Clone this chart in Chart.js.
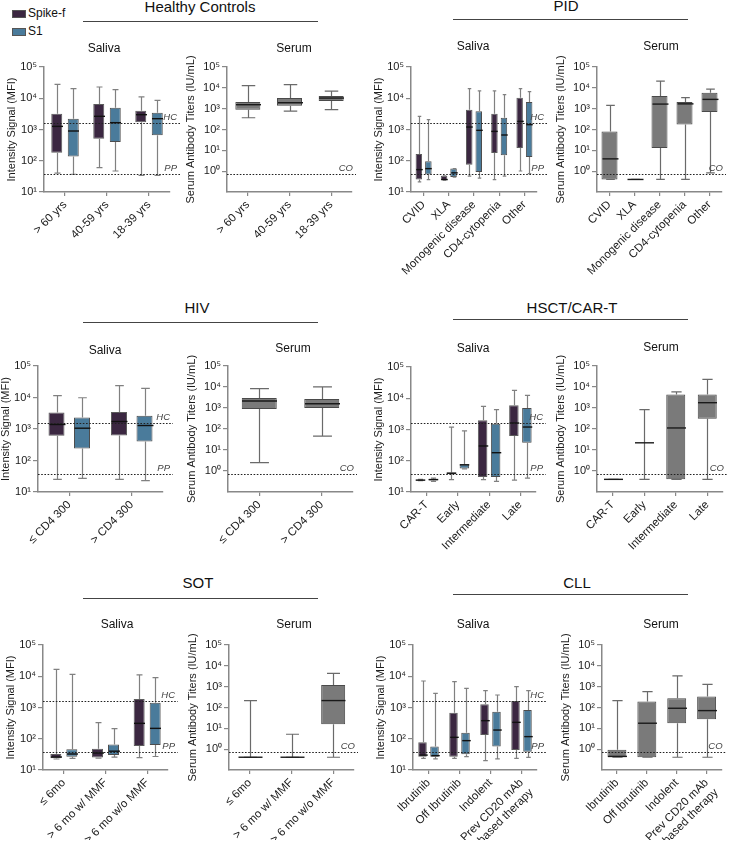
<!DOCTYPE html>
<html>
<head>
<meta charset="utf-8">
<script src="https://cdn.jsdelivr.net/npm/chart.js@4.4.1/dist/chart.umd.min.js"></script>
<style>
  body { margin: 0; background: #fff; width: 729px; height: 845px; position: relative; overflow: hidden;
         font-family: "Liberation Sans", Arial, Helvetica, sans-serif; color: #111; }
  canvas { position: absolute; left: 0; top: 0; pointer-events: none; }
  .txt { position: absolute; white-space: nowrap; line-height: 1; transform: translateX(-50%); }
  .rule { position: absolute; height: 0; border-top: 1.3px solid #444; }
  .sw { position: absolute; width: 14px; height: 8px; border: 1px solid #555; box-sizing: border-box; }
</style>
</head>
<body>
<script>
// ---- data: [min, q1, median, q3, max] ----
const hcGroups = ['> 60 yrs', '40-59 yrs', '18-39 yrs'];
const hcSalivaSpike = [[40, 180, 1260, 3200, 27900], [60, 510, 2640, 6550, 22900], [34, 1700, 2980, 4000, 11000]];
const hcSalivaS1 = [[37, 138, 895, 2220, 20300], [47, 398, 1655, 5000, 18800], [34, 650, 2220, 3460, 8570]];
const hcSerum = [[366, 890, 1550, 2070, 12700], [767, 1380, 1930, 3230, 14100], [890, 2320, 3230, 4030, 7020]];

const pidGroups = ['CVID', 'XLA', 'Monogenic disease', 'CD4-cytopenia', 'Other'];
const pidSalivaSpike = [[21, 25, 52, 165, 2640], [24, 24, 25, 33, 33], [32, 75, 1200, 4310, 20300], [25, 177, 870, 3200, 17100], [47, 256, 1820, 10400, 20300]];
const pidSalivaS1 = [[25, 36, 56, 96, 2060], [30, 30, 41, 56, 56], [28, 44, 940, 3810, 17100], [32, 149, 667, 2390, 13000], [39, 132, 1430, 7590, 16200]];
const pidSerum = [[0.4, 0.4, 3.9, 81, 1440], [0.4, 0.4, 0.4, 0.4, 0.4], [0.4, 12.8, 1660, 4030, 21200], [0.4, 175, 1700, 2070, 3360], [0.83, 687, 2790, 5840, 8750]];

const hivGroups = ['≤ CD4 300', '> CD4 300'];
const hivSalivaSpike = [[25, 605, 1390, 3350, 11400], [25, 621, 1730, 3440, 23700]];
const hivSalivaS1 = [[27, 240, 1060, 2320, 9820], [23, 400, 1290, 2620, 19500]];
const hivSerum = [[2.5, 890, 2150, 3000, 8440], [46, 990, 1600, 2690, 10100]];

const hsctGroups = ['CAR-T', 'Early', 'Intermediate', 'Late'];
const hsctSalivaSpike = [[23, 23.5, 24, 24.5, 25.5], [25, 38, 40, 42, 1200], [25, 30, 297, 1960, 5500], [24, 620, 1610, 5930, 17900]];
const hsctSalivaS1 = [[22, 23.5, 25, 26, 28], [55, 57, 74, 77, 900], [22, 30, 181, 1540, 4310], [28, 379, 1200, 4880, 12400]];
const hsctSerum = [[0.4, 0.4, 0.4, 0.4, 0.4], [0.4, 22, 22, 22, 830], [0.4, 0.4, 112, 4340, 5840], [0.4, 305, 1790, 4340, 22900]];

const sotGroups = ['≤ 6mo', '> 6 mo w/ MMF', '> 6 mo w/o MMF'];
const sotSalivaSpike = [[22.5, 23.6, 26, 32.5, 16600], [24, 25, 35, 48, 330], [25, 59, 311, 1870, 11000]];
const sotSalivaS1 = [[23.6, 26.7, 32.5, 46, 11500], [26, 30, 40, 65, 210], [27, 63, 215, 1430, 9000]];
const sotSerum = [[0.41, 0.41, 0.41, 0.41, 215], [0.41, 0.41, 0.41, 0.41, 5.2], [0.41, 15.8, 215, 1210, 4390]];

const cllGroups = ['Ibrutinib', 'Off Ibrutinib', 'Indolent', ['Prev CD20 mAb', 'based therapy']];
const cllSalivaSpike = [[23.6, 26.7, 30, 77, 7050], [23.6, 26.7, 111, 684, 6700], [20, 132, 379, 1260, 3460], [23.6, 43.6, 335, 1610, 4640]];
const cllSalivaS1 = [[22.6, 26.7, 28.8, 56, 2840], [26.7, 31.7, 87, 157, 4100], [22.6, 56, 190, 736, 2510], [25.4, 38.6, 117, 832, 3460]];
const cllSerum = [[0.41, 0.41, 0.45, 0.95, 215], [0.41, 0.41, 17.6, 192, 580], [0.41, 17.6, 92, 278, 3270], [0.41, 27.4, 71, 334, 1300]];

// thresholds
const hcLine = 1600;   // HC
const ppLine = 38;     // PP
const coLine = 0.7;    // CO

const salivaTicks = [1e1, 1e2, 1e3, 1e4, 1e5];
const serumTicks = [1e0, 1e1, 1e2, 1e3, 1e4, 1e5];

const FONT = '"Liberation Sans", Arial, Helvetica, sans-serif';
const SPIKE = '#3b2741';
const S1 = '#4a7b9b';
const GREY = '#7a7a7a';
const sup = { 0: '⁰', 1: '¹', 2: '²', 3: '³', 4: '⁴', 5: '⁵' };

// ---- text, rules, legend ----
function txt(s, cx, baseline, size, style) {
  const d = document.createElement('div');
  d.className = 'txt';
  d.textContent = s;
  d.style.left = cx + 'px';
  d.style.top = (baseline - 0.8465 * size) + 'px';
  d.style.fontSize = size + 'px';
  if (style) d.style.cssText += style;
  document.body.appendChild(d);
}
function rule(x1, x2, y) {
  const d = document.createElement('div');
  d.className = 'rule';
  d.style.left = x1 + 'px';
  d.style.width = (x2 - x1) + 'px';
  d.style.top = y + 'px';
  document.body.appendChild(d);
}
function swatch(x, y, c, label) {
  const d = document.createElement('div');
  d.className = 'sw';
  d.style.left = x + 'px';
  d.style.top = y + 'px';
  d.style.background = c;
  document.body.appendChild(d);
  const t = document.createElement('div');
  t.className = 'txt';
  t.style.transform = 'none';
  t.style.left = (x + 16) + 'px';
  t.style.top = (y + 7.5 - 0.8465 * 12) + 'px';
  t.style.fontSize = '12px';
  t.textContent = label;
  document.body.appendChild(t);
}

swatch(12, 10, SPIKE, 'Spike-f');
swatch(12, 28, S1, 'S1');

txt('Healthy Controls', 200, 12, 15); rule(83, 318, 21);
txt('PID', 566, 11, 15); rule(453, 688, 18.5);
txt('HIV', 197, 313, 15); rule(83, 318, 322);
txt('HSCT/CAR-T', 572, 313, 15); rule(453, 688, 319);
txt('SOT', 198, 588, 15); rule(83, 318, 598);
txt('CLL', 577, 588, 15); rule(453, 688, 594);

// ---- plugins ----
const boxPlot = {
  id: 'boxPlot',
  afterDatasetsDraw(chart) {
    const ctx = chart.ctx;
    const y = chart.scales.y;
    chart.data.datasets.forEach((ds, di) => {
      const meta = chart.getDatasetMeta(di);
      meta.data.forEach((bar, i) => {
        const s = ds.stats[i];
        const x = Math.round(bar.x) + 0.5;
        const w = bar.width;
        const py = v => y.getPixelForValue(v);
        const cap = w * 0.27;
        ctx.save();
        ctx.strokeStyle = ds.whiskerColor;
        ctx.lineWidth = 1.2;
        ctx.beginPath();
        ctx.moveTo(x, py(s[4])); ctx.lineTo(x, py(s[3]));
        ctx.moveTo(x, py(s[1])); ctx.lineTo(x, py(s[0]));
        ctx.moveTo(x - cap, py(s[4])); ctx.lineTo(x + cap, py(s[4]));
        ctx.moveTo(x - cap, py(s[0])); ctx.lineTo(x + cap, py(s[0]));
        ctx.stroke();
        ctx.strokeStyle = ds.medianColor;
        ctx.lineWidth = 1.4;
        ctx.beginPath();
        ctx.moveTo(x - w / 2, py(s[2])); ctx.lineTo(x + w / 2, py(s[2]));
        ctx.stroke();
        ctx.restore();
      });
    });
  }
};

const refLines = {
  id: 'refLines',
  afterDraw(chart, args, opts) {
    const { ctx, chartArea } = chart;
    const y = chart.scales.y;
    (opts.lines || []).forEach(l => {
      const py = Math.round(y.getPixelForValue(l.value)) + 0.5;
      const end = chartArea.right + opts.extend;
      ctx.save();
      ctx.setLineDash([1.6, 1.6]);
      ctx.strokeStyle = '#222';
      ctx.lineWidth = 1.2;
      ctx.beginPath();
      ctx.moveTo(chartArea.left, py);
      ctx.lineTo(end, py);
      ctx.stroke();
      ctx.setLineDash([]);
      ctx.fillStyle = '#444';
      ctx.font = 'italic 9.5px ' + FONT;
      ctx.textAlign = 'right';
      ctx.textBaseline = 'bottom';
      ctx.fillText(l.label, end - 3, py - 1);
      ctx.restore();
    });
  }
};

// ---- panels ----
function makePanel(p) {
  const canvas = document.createElement('canvas');
  canvas.width = 729;
  canvas.height = 845;
  document.body.appendChild(canvas);

  const serum = p.kind === 'serum';
  const W = serum ? 44 : 40;
  const H = p.H;
  const catW = (p.right - p.axisX) / p.cats.length;
  const toBar = arr => arr.map(s => [s[1], s[3]]);

  let datasets;
  if (serum) {
    datasets = [{
      data: toBar(p.serum), stats: p.serum,
      backgroundColor: GREY, borderColor: '#4a4a4a', borderWidth: 1, borderSkipped: false,
      whiskerColor: '#6a6a6a', medianColor: '#1a1a1a',
      categoryPercentage: 1, barPercentage: p.box / catW
    }];
  } else {
    const cp = 2 * p.slot / catW;
    const bp = p.box / p.slot;
    datasets = [
      { data: toBar(p.spike), stats: p.spike, backgroundColor: SPIKE, borderColor: '#5c5c5c', borderWidth: 1,
        borderSkipped: false, whiskerColor: '#808080', medianColor: '#111', categoryPercentage: cp, barPercentage: bp },
      { data: toBar(p.s1), stats: p.s1, backgroundColor: S1, borderColor: '#4d4d4d', borderWidth: 1,
        borderSkipped: false, whiskerColor: '#808080', medianColor: '#111', categoryPercentage: cp, barPercentage: bp }
    ];
  }

  const ticks = serum ? serumTicks : salivaTicks;
  new Chart(canvas, {
    type: 'bar',
    data: { labels: p.cats, datasets },
    plugins: [boxPlot, refLines],
    options: {
      responsive: false,
      animation: false,
      devicePixelRatio: 1,
      layout: {
        padding: { left: p.axisX - W, top: p.top, right: 729 - p.right, bottom: 845 - p.bottom - H }
      },
      plugins: {
        legend: { display: false },
        tooltip: { enabled: false },
        refLines: serum
          ? { lines: [{ value: coLine, label: 'CO' }], extend: 4 }
          : { lines: [{ value: hcLine, label: 'HC' }, { value: ppLine, label: 'PP' }], extend: 10 }
      },
      scales: {
        x: {
          type: 'category',
          offset: true,
          afterFit: s => { s.height = H; },
          grid: { offset: false, drawOnChartArea: false, tickLength: 4, color: '#888', lineWidth: 1.2 },
          border: { color: '#888', width: 1.5 },
          ticks: { autoSkip: false, minRotation: 45, maxRotation: 45, padding: 2, color: '#1a1a1a',
                   font: { family: FONT, size: 11.5 } }
        },
        y: {
          type: 'logarithmic',
          min: serum ? 0.1 : 10,
          max: 1e5,
          afterFit: s => { s.width = W; },
          afterBuildTicks: s => { s.ticks = ticks.map(v => ({ value: v })); },
          grid: { drawOnChartArea: false, tickLength: 5, color: '#888', lineWidth: 1.2 },
          border: { color: '#888', width: 1.5 },
          ticks: {
            padding: 2, color: '#1a1a1a', font: { family: FONT, size: 11 },
            callback: v => '10' + sup[Math.round(Math.log10(v))]
          },
          title: {
            display: true,
            text: serum ? 'Serum Antibody Titers (IU/mL)' : 'Intensity Signal (MFI)',
            color: '#1a1a1a', font: { family: FONT, size: 11 }, padding: { top: 1.4, bottom: 0 }
          }
        }
      }
    }
  });
  txt(serum ? 'Serum' : 'Saliva', p.titleX, p.titleY, 12);
}

const panels = [
  { kind: 'saliva', cats: hcGroups, spike: hcSalivaSpike, s1: hcSalivaS1, axisX: 44, right: 170, top: 67, bottom: 192, H: 90, slot: 16.5, box: 11, titleX: 104, titleY: 52.5 },
  { kind: 'serum', cats: hcGroups, serum: hcSerum, axisX: 227, right: 352, top: 67, bottom: 192, H: 90, box: 25, titleX: 294, titleY: 52.5 },
  { kind: 'saliva', cats: pidGroups, spike: pidSalivaSpike, s1: pidSalivaS1, axisX: 411, right: 537, top: 67, bottom: 192, H: 90, slot: 9.5, box: 6.5, titleX: 473, titleY: 50 },
  { kind: 'serum', cats: pidGroups, serum: pidSerum, axisX: 597, right: 722, top: 67, bottom: 192, H: 90, box: 16, titleX: 661, titleY: 50 },

  { kind: 'saliva', cats: hivGroups, spike: hivSalivaSpike, s1: hivSalivaS1, axisX: 38, right: 163, top: 366, bottom: 492, H: 90, slot: 25.5, box: 16, titleX: 105, titleY: 354 },
  { kind: 'serum', cats: hivGroups, serum: hivSerum, axisX: 228, right: 353, top: 366, bottom: 492, H: 90, box: 35, titleX: 293, titleY: 352 },
  { kind: 'saliva', cats: hsctGroups, spike: hsctSalivaSpike, s1: hsctSalivaS1, axisX: 411, right: 536, top: 367, bottom: 492, H: 90, slot: 13, box: 9.5, titleX: 473, titleY: 352 },
  { kind: 'serum', cats: hsctGroups, serum: hsctSerum, axisX: 597, right: 723, top: 366, bottom: 492, H: 90, box: 19, titleX: 661, titleY: 351 },

  { kind: 'saliva', cats: sotGroups, spike: sotSalivaSpike, s1: sotSalivaS1, axisX: 43, right: 168, top: 645, bottom: 770, H: 70, slot: 16, box: 11, titleX: 117, titleY: 628 },
  { kind: 'serum', cats: sotGroups, serum: sotSerum, axisX: 229, right: 354, top: 645, bottom: 770, H: 70, box: 24, titleX: 294, titleY: 628 },
  { kind: 'saliva', cats: cllGroups, spike: cllSalivaSpike, s1: cllSalivaS1, axisX: 413, right: 537, top: 645, bottom: 770, H: 70, slot: 12, box: 8.5, titleX: 473, titleY: 628 },
  { kind: 'serum', cats: cllGroups, serum: cllSerum, axisX: 602, right: 722, top: 645, bottom: 770, H: 70, box: 19, titleX: 661, titleY: 628 }
];

panels.forEach(makePanel);
</script>
</body>
</html>
